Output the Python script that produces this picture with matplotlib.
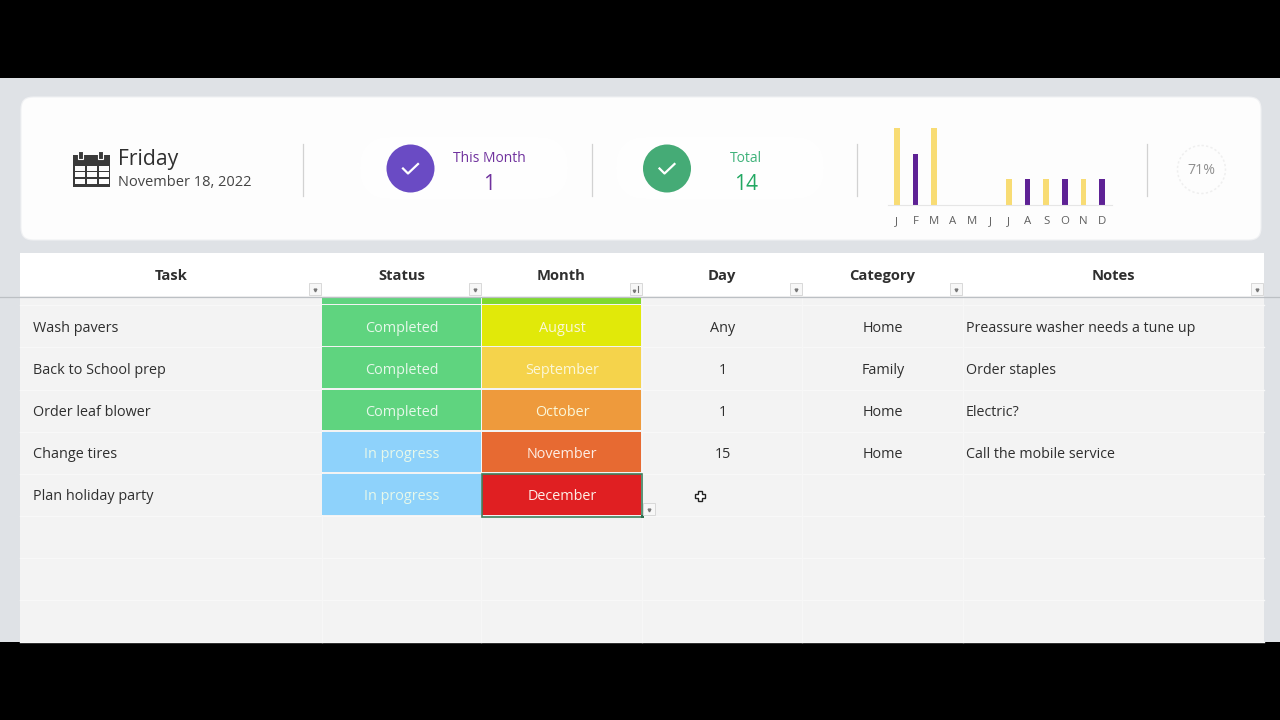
import matplotlib
matplotlib.use("Agg")
import matplotlib.pyplot as plt
from matplotlib.patches import FancyBboxPatch, Rectangle, Circle

plt.rcParams['font.family'] = ['Open Sans', 'DejaVu Sans']

months_short = ["J", "F", "M", "A", "M", "J", "J", "A", "S", "O", "N", "D"]
month_counts = [3, 2, 3, 0, 0, 0, 1, 1, 1, 1, 1, 1]
columns = ["Task", "Status", "Month", "Day", "Category", "Notes"]
tasks = ["Wash pavers", "Back to School prep", "Order leaf blower", "Change tires", "Plan holiday party"]
statuses = ["Completed", "Completed", "Completed", "In progress", "In progress"]
months = ["August", "September", "October", "November", "December"]
days = ["Any", "1", "1", "15", ""]
categories = ["Home", "Family", "Home", "Home", ""]
notes = ["Preassure washer needs a tune up", "Order staples", "Electric?", "Call the mobile service", ""]
month_colors = ["#e1e909", "#f5d34b", "#ee9a3c", "#e76a32", "#e01f22"]
status_colors = {"Completed": "#5fd47f", "In progress": "#8ed2fb"}
percent = "71%"

col_edges = [20, 322, 481, 641.5, 802, 963, 1264]
row_edges = [305, 347, 389.5, 431.5, 473.5, 516, 558, 600, 642]

fig = plt.figure(figsize=(12.8, 7.2), dpi=100, facecolor="black")
ax = fig.add_axes([0, 0, 1, 1])
ax.set_xlim(0, 1280)
ax.set_ylim(720, 0)
ax.axis("off")

DARK = "#2f2f2f"
ax.add_patch(Rectangle((0, 78), 1280, 564, fc="#dfe2e6", ec="none", zorder=0))
ax.add_patch(FancyBboxPatch((29, 105), 1224, 127, boxstyle="round,pad=8,rounding_size=12",
                            fc="#fdfdfd", ec="#f0f1f3", lw=0.8, zorder=1))

# table background
ax.add_patch(Rectangle((20, 253), 1244, 389, fc="#f3f3f3", ec="none", zorder=1))
ax.add_patch(Rectangle((20, 253), 1244, 43, fc="#ffffff", ec="none", zorder=2))
for y in row_edges:
    ax.plot([20, 1264], [y, y], color="#f8f8f8", lw=1.0, zorder=2)
for x in col_edges[1:-1]:
    ax.plot([x, x], [296, 642], color="#f7f7f7", lw=1.0, zorder=2)
ax.plot([0, 1280], [296.5, 296.5], color="#bcc0c4", lw=0.9, zorder=6)

# header
for i, name in enumerate(columns):
    cx = (col_edges[i] + col_edges[i + 1]) / 2
    if i == 0:
        cx = 171
    if i == 1:
        cx = 401.5
    ax.text(cx, 280, name, ha="center", va="baseline", fontsize=10.6, fontweight="bold", color=DARK, zorder=7)
for x in [314.5, 475, 635.5, 796, 956, 1257]:
    ax.add_patch(Rectangle((x - 6, 283), 12, 12, fc="#f7f7f7", ec="#d8d8d8", lw=0.7, zorder=7))
    if x == 635.5:
        ax.plot([x + 2, x + 2], [286, 292], color="#777777", lw=0.8, zorder=8)
        ax.plot([x - 2], [290.5], marker="v", ms=1.8, color="#777777", zorder=8)
    else:
        ax.plot([x], [289.5], marker="v", ms=2.0, color="#777777", zorder=8)

# partly scrolled row
ax.add_patch(Rectangle((322, 297), 159, 6.5, fc="#5fd47f", ec="none", zorder=3))
ax.add_patch(Rectangle((482, 297), 159, 6.5, fc="#7fd92f", ec="none", zorder=3))

# rows
for r, task in enumerate(tasks):
    top, bot = row_edges[r], row_edges[r + 1]
    by = (top + bot) / 2 + 5.5
    ax.add_patch(Rectangle((322, top), 158.5, bot - top - 1.5, fc=status_colors[statuses[r]], ec="none", zorder=3))
    ax.add_patch(Rectangle((482, top), 159, bot - top - 1.5, fc=month_colors[r], ec="none", zorder=3))
    ax.text(33, by, task, ha="left", va="baseline", fontsize=10.4, color=DARK, zorder=5)
    ax.text(401.5, by, statuses[r], ha="center", va="baseline", fontsize=10.4, color="#e6f8ea", zorder=5)
    ax.text(562, by, months[r], ha="center", va="baseline", fontsize=10.4, color="#fbf7d8" if r < 3 else "#fdeee6", zorder=5)
    ax.text(722.5, by, days[r], ha="center", va="baseline", fontsize=10.4, color=DARK, zorder=5)
    ax.text(883, by, categories[r], ha="center", va="baseline", fontsize=10.4, color=DARK, zorder=5)
    ax.text(965.5, by, notes[r], ha="left", va="baseline", fontsize=10.3, color=DARK, zorder=5)

# selection
ax.add_patch(Rectangle((481.5, 473.5), 160.5, 43, fc="none", ec="#3f7f5c", lw=1.2, zorder=6))
ax.add_patch(Rectangle((640.5, 514.5), 3.5, 3.5, fc="#2f6f4f", ec="none", zorder=7))
ax.add_patch(Rectangle((643, 503), 12, 12, fc="#f7f7f7", ec="#d8d8d8", lw=0.7, zorder=7))
ax.plot([649], [509.5], marker="v", ms=2.0, color="#777777", zorder=8)
ax.plot([699.5], [495.5], marker="P", ms=7, mfc="white", mec="#222222", mew=1.0, zorder=8)

# calendar icon
ICON = "#3a3a3a"
ax.add_patch(Rectangle((73, 155), 37, 8, fc=ICON, ec="none", zorder=3))
ax.add_patch(Rectangle((73, 162), 37, 25, fc=ICON, ec="none", zorder=3))
for x in [80, 100]:
    ax.add_patch(Rectangle((x - 2.5, 150.5), 5, 8.5, fc=ICON, ec="#fdfdfd", lw=0.8, zorder=4))
for yy in [165.5, 172, 178.5]:
    for xx in [75, 87, 99]:
        ax.add_patch(Rectangle((xx, yy), 9.5, 5, fc="#fdfdfd", ec="none", zorder=4))
ax.text(117.5, 165, "Friday", ha="left", va="baseline", fontsize=15.2, color=DARK, zorder=4)
ax.text(117.5, 186, "November 18, 2022", ha="left", va="baseline", fontsize=10.5, color="#444444", zorder=4)

# dividers
for x in [303, 592, 856.5, 1147]:
    ax.plot([x, x], [144, 196], color="#d2d2d2", lw=0.9, zorder=3)

# KPI pills
for x0, x1 in [(360, 568), (616, 824)]:
    ax.add_patch(FancyBboxPatch((x0, 137), x1 - x0, 62, boxstyle="round,pad=0,rounding_size=30",
                                fc="#fefefe", ec="none", zorder=2))
ax.add_patch(Circle((410.5, 168.5), 24, fc="#6a4bc4", ec="none", zorder=3))
ax.add_patch(Circle((667, 168.5), 24, fc="#45ab76", ec="none", zorder=3))
for cx in [410.5, 667]:
    ax.plot([cx - 7.5, cx - 2.5, cx + 7.5], [168.5, 173.5, 164], color="white", lw=1.6, zorder=4)
ax.text(489.5, 158, "This Month", ha="center", va="center", fontsize=10, color="#70329e", zorder=4)
ax.text(489.5, 184, "1", ha="center", va="center", fontsize=15, color="#70329e", zorder=4)
ax.text(746, 158, "Total", ha="center", va="center", fontsize=10, color="#3fb27a", zorder=4)
ax.text(746, 184, "14", ha="center", va="center", fontsize=15, color="#22a862", zorder=4)

# percent ring
ax.add_patch(Circle((1201.5, 169.5), 24, fc="none", ec="#efefef", lw=1.1, ls=(0, (1.5, 1.5)), zorder=3))
ax.text(1201.5, 171, percent, ha="center", va="center", fontsize=10.2, color="#8f8f8f", zorder=4)

# bar chart
W, H = 1280, 720
bax = fig.add_axes([887.5 / W, 1 - 204.5 / H, 224 / W, 76.5 / H])
bax.patch.set_alpha(0)
xs = list(range(12))
bar_colors = ["#f8dc74" if i % 2 == 0 else "#5e2295" for i in xs]
bax.bar(xs, month_counts, width=0.32, color=bar_colors)
bax.set_xlim(-0.5, 11.5)
bax.set_ylim(0, 3)
bax.set_yticks([])
bax.set_xticks(xs)
bax.set_xticklabels(months_short, fontsize=8.2, color="#5f5f5f")
bax.tick_params(axis="x", length=0, pad=8.5)
for s in ["top", "left", "right"]:
    bax.spines[s].set_visible(False)
bax.spines["bottom"].set_color("#e6e6e6")

fig.savefig("out.png", dpi=100, facecolor="black")
